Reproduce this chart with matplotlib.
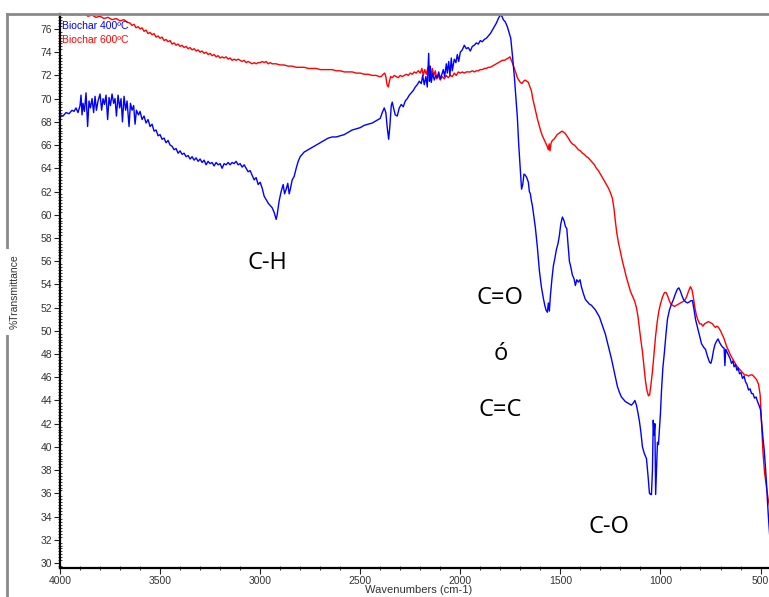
import matplotlib
matplotlib.use("Agg")
import matplotlib.pyplot as plt
from matplotlib.ticker import MultipleLocator
from matplotlib.lines import Line2D

# ---------------- data ----------------
blue_wn = [4000, 3985, 3970, 3955, 3940, 3930, 3920, 3910, 3900, 3895, 3890, 3885, 3878, 3870, 3862, 3855,
           3848, 3840, 3832, 3825, 3818, 3810, 3800, 3792, 3785, 3778, 3770, 3762, 3755, 3748, 3740, 3732,
           3725, 3718, 3710, 3702, 3695, 3688, 3680, 3672, 3665, 3655, 3648, 3640, 3632, 3625, 3618, 3608,
           3600, 3590, 3580, 3570, 3560, 3550, 3540, 3530, 3520, 3510, 3500, 3490, 3480, 3470, 3460, 3450,
           3440, 3430, 3420, 3410, 3400, 3390, 3380, 3370, 3360, 3350, 3340, 3330, 3320, 3310, 3300, 3290,
           3280, 3270, 3260, 3250, 3240, 3230, 3220, 3210, 3200, 3190, 3180, 3170, 3160, 3150, 3140, 3130,
           3120, 3110, 3100, 3090, 3080, 3070, 3060, 3050, 3040, 3030, 3020, 3010, 3000, 2990, 2980, 2970,
           2960, 2950, 2940, 2930, 2920, 2915, 2905, 2895, 2885, 2878, 2870, 2862, 2855, 2848, 2840, 2830,
           2820, 2810, 2800, 2790, 2780, 2760, 2740, 2720, 2700, 2680, 2660, 2640, 2620, 2600, 2580, 2560,
           2540, 2520, 2500, 2480, 2460, 2440, 2420, 2400, 2390, 2380, 2372, 2365, 2358, 2352, 2345, 2340,
           2335, 2325, 2315, 2305, 2295, 2285, 2275, 2265, 2255, 2245, 2235, 2225, 2215, 2205, 2195, 2188,
           2180, 2172, 2165, 2158, 2154, 2150, 2145, 2138, 2130, 2122, 2115, 2108, 2100, 2092, 2085, 2078,
           2070, 2065, 2058, 2052, 2045, 2040, 2030, 2022, 2015, 2008, 2000, 1990, 1980, 1970, 1960, 1950,
           1940, 1930, 1920, 1910, 1900, 1890, 1880, 1870, 1860, 1850, 1840, 1830, 1820, 1810, 1800, 1792,
           1785, 1775, 1765, 1755, 1748, 1740, 1730, 1722, 1715, 1708, 1700, 1694, 1688, 1682, 1675, 1668,
           1660, 1655, 1650, 1645, 1640, 1632, 1625, 1615, 1605, 1595, 1585, 1578, 1572, 1565, 1560, 1555,
           1550, 1542, 1535, 1528, 1520, 1512, 1505, 1498, 1490, 1482, 1475, 1468, 1462, 1455, 1448, 1440,
           1432, 1425, 1418, 1410, 1402, 1395, 1385, 1375, 1365, 1355, 1345, 1335, 1325, 1315, 1305, 1295,
           1285, 1275, 1265, 1255, 1245, 1235, 1225, 1215, 1205, 1195, 1185, 1175, 1165, 1155, 1145, 1135,
           1128, 1120, 1112, 1105, 1098, 1090, 1080, 1070, 1062, 1055, 1048, 1045, 1040, 1036, 1032, 1028,
           1024, 1020, 1015, 1010, 1005, 1000, 995, 988, 980, 972, 965, 955, 945, 935, 925, 915,
           908, 900, 892, 885, 875, 865, 855, 848, 840, 832, 825, 815, 805, 795, 785, 775,
           765, 755, 748, 742, 735, 728, 720, 712, 705, 698, 690, 682, 678, 674, 668, 660,
           652, 645, 638, 632, 625, 618, 612, 605, 598, 590, 582, 575, 568, 560, 552, 545,
           538, 530, 522, 515, 508, 500, 494, 488, 482, 476, 470, 465, 460, 455, 450]
blue_t = [68.6, 68.5, 68.8, 68.7, 69.0, 68.9, 69.2, 68.8, 69.4, 70.3, 68.6, 69.6, 68.9, 70.5, 67.6, 69.8,
          69.2, 70.0, 68.8, 70.2, 69.0, 69.8, 70.4, 69.0, 70.0, 69.5, 70.3, 68.2, 70.1, 69.4, 70.4, 69.6,
          70.0, 68.5, 70.3, 69.2, 70.0, 68.0, 70.2, 69.0, 69.8, 67.6, 69.6, 69.0, 69.4, 67.8, 69.0, 68.6,
          68.9, 68.2, 68.5, 67.9, 68.2, 67.6, 67.8, 67.2, 67.3, 66.8, 66.9, 66.5, 66.6, 66.2, 66.4, 66.0,
          65.9, 65.6, 65.7, 65.3, 65.5, 65.2, 65.3, 65.0, 65.1, 64.8, 65.0, 64.7, 64.9, 64.6, 64.8, 64.5,
          64.7, 64.3, 64.6, 64.4, 64.5, 64.2, 64.5, 64.3, 64.4, 64.0, 64.4, 64.3, 64.5, 64.3, 64.5, 64.4,
          64.6, 64.3, 64.4, 64.1, 64.3, 64.0, 63.7, 63.8, 63.4, 63.0, 63.2, 62.6, 62.8, 62.3, 61.6, 61.3,
          61.0, 60.8, 60.6, 60.2, 59.6, 60.0, 61.2, 62.0, 62.6, 61.8, 62.2, 62.7, 61.8, 62.3, 63.0, 63.3,
          64.0, 64.6, 65.0, 65.2, 65.4, 65.6, 65.8, 66.0, 66.2, 66.4, 66.6, 66.7, 66.7, 66.8, 66.9, 67.1,
          67.3, 67.4, 67.5, 67.7, 67.8, 67.9, 68.1, 68.3, 68.8, 69.2, 68.8, 67.5, 66.5, 67.6, 69.4, 69.7,
          69.3, 68.6, 68.5, 69.2, 69.5, 69.3, 69.8, 70.0, 70.3, 70.5, 70.7, 71.0, 71.2, 71.5, 71.3, 72.0,
          71.2, 71.9, 71.0, 73.9, 71.5, 72.8, 71.4, 72.2, 71.6, 72.0, 71.8, 72.3, 71.7, 72.1, 72.5, 71.9,
          73.0, 72.2, 73.2, 72.0, 73.5, 72.4, 73.4, 73.1, 73.8, 73.2, 74.0, 74.2, 74.6, 74.3, 74.4, 74.1,
          74.5, 74.6, 74.8, 74.7, 75.0, 74.9, 75.1, 75.2, 75.4, 75.6, 75.9, 76.2, 76.5, 76.9, 77.2, 77.1,
          76.8, 76.6, 76.2, 75.6, 75.2, 73.8, 71.9, 70.0, 68.4, 66.0, 63.8, 62.2, 62.6, 63.5, 63.4, 63.2,
          62.8, 62.0, 61.8, 61.2, 60.8, 59.8, 58.9, 57.2, 55.2, 53.8, 52.8, 52.2, 51.8, 51.6, 52.4, 51.7,
          53.0, 54.5, 55.6, 56.2, 57.0, 57.5, 58.2, 59.2, 59.8, 59.5, 59.0, 58.8, 57.5, 56.0, 55.5, 54.8,
          54.5, 53.9, 54.4, 54.2, 54.4, 53.8, 53.2, 52.7, 52.5, 52.3, 52.2, 52.0, 51.8, 51.5, 51.2, 50.7,
          50.2, 49.7, 49.0, 48.3, 47.6, 46.8, 46.0, 45.2, 44.7, 44.3, 44.1, 43.9, 43.8, 43.7, 43.6, 43.8,
          44.0, 43.6, 42.9, 42.2, 41.3, 40.0, 39.4, 39.0, 37.5, 36.0, 35.9, 35.9, 38.0, 42.3, 41.0, 42.0,
          35.9, 38.0, 40.4, 40.2, 41.5, 42.9, 44.8, 46.8, 48.2, 49.8, 51.0, 51.8, 52.3, 52.7, 53.2, 53.6,
          53.7, 53.4, 53.0, 52.7, 52.5, 52.4, 52.5, 52.6, 52.6, 51.8, 51.0, 50.3, 49.6, 48.9, 48.6, 48.4,
          47.8, 47.3, 47.2, 47.6, 48.3, 48.8, 49.1, 49.3, 49.0, 48.8, 48.6, 48.5, 47.0, 48.4, 48.2, 47.9,
          47.6, 47.2, 47.4, 46.9, 47.1, 46.6, 46.8, 46.3, 46.4, 45.9, 46.1, 45.6, 45.4, 44.9, 45.0, 44.6,
          44.6, 44.2, 44.3, 43.9, 43.6, 43.2, 42.0, 40.8, 39.8, 38.4, 36.8, 35.2, 33.8, 32.6, 31.3]

red_wn = [4000, 3980, 3960, 3940, 3920, 3900, 3880, 3860, 3840, 3820, 3800, 3780, 3760, 3740, 3720, 3700,
          3680, 3665, 3650, 3640, 3630, 3620, 3610, 3600, 3590, 3580, 3570, 3560, 3550, 3540, 3530, 3520,
          3510, 3500, 3490, 3480, 3470, 3460, 3450, 3440, 3430, 3420, 3410, 3400, 3390, 3380, 3370, 3360,
          3350, 3340, 3330, 3320, 3310, 3300, 3290, 3280, 3270, 3260, 3250, 3240, 3230, 3220, 3210, 3200,
          3190, 3180, 3170, 3160, 3150, 3140, 3130, 3120, 3110, 3100, 3090, 3080, 3070, 3060, 3050, 3040,
          3030, 3020, 3010, 3000, 2990, 2980, 2970, 2960, 2950, 2940, 2920, 2900, 2880, 2860, 2840, 2820,
          2800, 2780, 2760, 2740, 2720, 2700, 2680, 2660, 2640, 2620, 2600, 2580, 2560, 2540, 2520, 2500,
          2480, 2460, 2440, 2420, 2405, 2395, 2385, 2378, 2372, 2366, 2360, 2354, 2348, 2340, 2330, 2320,
          2310, 2300, 2290, 2280, 2270, 2260, 2250, 2240, 2230, 2220, 2210, 2200, 2192, 2185, 2178, 2170,
          2162, 2155, 2148, 2140, 2132, 2125, 2118, 2110, 2100, 2090, 2080, 2070, 2060, 2050, 2040, 2030,
          2020, 2010, 2000, 1990, 1980, 1970, 1960, 1950, 1940, 1930, 1920, 1910, 1900, 1890, 1880, 1870,
          1860, 1850, 1840, 1830, 1820, 1810, 1800, 1790, 1780, 1770, 1760, 1752, 1745, 1738, 1730, 1722,
          1715, 1708, 1700, 1692, 1684, 1676, 1668, 1660, 1652, 1645, 1638, 1630, 1622, 1614, 1606, 1598,
          1590, 1582, 1574, 1566, 1560, 1556, 1552, 1546, 1540, 1532, 1524, 1516, 1508, 1500, 1492, 1484,
          1476, 1468, 1460, 1450, 1440, 1430, 1420, 1410, 1400, 1390, 1380, 1370, 1360, 1350, 1340, 1330,
          1320, 1310, 1300, 1290, 1280, 1270, 1260, 1250, 1240, 1232, 1225, 1218, 1210, 1200, 1190, 1180,
          1170, 1160, 1150, 1140, 1130, 1120, 1112, 1105, 1098, 1090, 1082, 1075, 1068, 1060, 1054, 1048,
          1040, 1032, 1024, 1016, 1008, 1000, 990, 980, 972, 964, 956, 948, 940, 930, 920, 910,
          900, 890, 880, 870, 860, 850, 842, 835, 828, 820, 812, 804, 796, 788, 780, 770,
          760, 750, 740, 732, 725, 718, 710, 700, 692, 684, 676, 668, 660, 650, 640, 630,
          620, 610, 600, 590, 580, 570, 560, 550, 540, 530, 520, 510, 502, 495, 488, 480,
          470, 460, 450]
red_t = [77.4, 77.3, 77.4, 77.2, 77.3, 77.2, 77.3, 77.1, 77.2, 77.0, 77.1, 76.9, 77.0, 76.8, 76.9, 76.7,
         76.8, 76.6, 76.5, 76.3, 76.4, 76.1, 76.2, 76.0, 76.1, 75.8, 75.9, 75.6, 75.7, 75.5, 75.6, 75.3,
         75.4, 75.2, 75.3, 75.0, 75.1, 74.9, 75.0, 74.7, 74.8, 74.6, 74.7, 74.5, 74.6, 74.4, 74.5, 74.3,
         74.4, 74.2, 74.3, 74.1, 74.2, 74.0, 74.1, 73.9, 74.0, 73.8, 73.9, 73.7, 73.8, 73.6, 73.7, 73.5,
         73.6, 73.5, 73.6, 73.4, 73.5, 73.3, 73.4, 73.3, 73.4, 73.3, 73.2, 73.3, 73.1, 73.2, 73.1, 73.0,
         73.1, 73.0, 73.1, 73.1, 73.2, 73.1, 73.2, 73.0, 73.1, 73.0, 73.0, 72.9, 72.9, 72.8, 72.8, 72.7,
         72.7, 72.7, 72.6, 72.6, 72.6, 72.5, 72.5, 72.5, 72.5, 72.4, 72.4, 72.3, 72.3, 72.3, 72.2, 72.2,
         72.1, 72.1, 72.0, 72.0, 71.9, 71.9, 72.1, 72.2, 71.9, 71.2, 71.0, 71.5, 71.9, 71.8, 72.0, 71.9,
         71.8, 72.0, 71.9, 72.0, 72.1, 72.0, 72.2, 72.1, 72.3, 72.2, 72.4, 72.2, 72.6, 72.0, 72.5, 72.1,
         72.7, 72.3, 71.8, 72.6, 72.0, 72.4, 71.7, 72.0, 71.6, 71.9, 71.7, 72.0, 71.8, 72.0, 71.9, 72.2,
         72.0, 72.3, 72.2, 72.3, 72.2, 72.3, 72.3, 72.3, 72.4, 72.3, 72.4, 72.4, 72.5, 72.5, 72.6, 72.6,
         72.7, 72.7, 72.8, 72.9, 73.0, 73.1, 73.2, 73.3, 73.3, 73.4, 73.5, 73.6, 73.3, 73.0, 72.6, 72.2,
         71.8, 71.6, 71.4, 71.3, 71.5, 71.6, 71.5, 71.4, 71.0, 70.7, 70.0, 69.4, 68.8, 68.2, 67.7, 67.2,
         66.8, 66.5, 66.2, 65.9, 65.6, 66.1, 65.5, 66.2, 66.4, 66.5, 66.7, 66.9, 67.0, 67.1, 67.2, 67.1,
         67.0, 66.8, 66.6, 66.3, 66.1, 66.0, 65.8, 65.6, 65.5, 65.3, 65.2, 65.0, 64.9, 64.7, 64.5, 64.3,
         64.0, 63.8, 63.5, 63.2, 62.9, 62.6, 62.3, 61.9, 61.4, 60.5, 59.4, 58.4, 57.6, 56.8, 56.0, 55.3,
         54.6, 54.0, 53.4, 53.0, 52.6, 52.0, 51.2, 50.2, 49.2, 48.2, 46.9, 45.7, 44.9, 44.4, 44.5, 45.3,
         46.5, 48.0, 49.6, 50.8, 51.7, 52.3, 52.9, 53.3, 53.3, 53.0, 52.6, 52.3, 52.2, 52.1, 52.2, 52.3,
         52.4, 52.5, 52.6, 52.9, 53.4, 53.8, 53.5, 52.8, 52.0, 51.3, 50.9, 50.6, 50.6, 50.4, 50.6, 50.7,
         50.8, 50.7, 50.6, 50.4, 50.3, 50.4, 50.3, 50.0, 49.7, 49.4, 49.0, 48.6, 48.3, 47.9, 47.6, 47.3,
         47.0, 46.8, 46.6, 46.4, 46.2, 46.2, 46.1, 46.2, 46.2, 46.0, 45.8, 45.4, 44.5, 42.0, 39.6, 37.8,
         36.5, 35.3, 34.5]

series_labels = ["Biochar 400ºC", "Biochar 600ºC"]
series_colors = ["#0000FF", "#FF0000"]
x_ticks = [4000, 3500, 3000, 2500, 2000, 1500, 1000, 500]
y_ticks = list(range(30, 77, 2))
annotations = [("C-H", 2965, 55.31), ("C=O", 1800, 52.29), ("ó", 1800, 47.47),
               ("C=C", 1800, 42.64), ("C-O", 1255, 32.55)]

# ---------------- figure ----------------
W, H = 769, 597
fig = plt.figure(figsize=(W / 100, H / 100), dpi=100)
fig.patch.set_facecolor("white")

ax_left = 60 / W
ax_bottom = (H - 568) / H
ax_top = (H - 14) / H
ax = fig.add_axes([ax_left, ax_bottom, 1.0 - ax_left + 0.002, ax_top - ax_bottom])

ax.plot(blue_wn, blue_t, color=series_colors[0], lw=1.0, zorder=3)
ax.plot(red_wn, red_t, color=series_colors[1], lw=1.0, zorder=2)

ax.set_xlim(4000, 450)
ax.set_ylim(29.57, 77.29)

ax.set_xticks(x_ticks)
ax.set_yticks(y_ticks)
ax.xaxis.set_minor_locator(MultipleLocator(100))
ax.yaxis.set_minor_locator(MultipleLocator(0.25))

tick_font = {"family": "Liberation Sans", "size": 7.5}
ax.set_xticklabels([str(t) for t in x_ticks], fontdict=tick_font, color="#333333")
ax.set_yticklabels([str(t) for t in y_ticks], fontdict=tick_font, color="#333333")
ax.tick_params(axis="both", which="major", direction="out", length=4, width=0.8, pad=1.5, color="#222222")
ax.tick_params(axis="both", which="minor", direction="inout", length=3, width=0.6, color="#222222")

for s in ["top", "right"]:
    ax.spines[s].set_visible(False)
for s in ["left", "bottom"]:
    ax.spines[s].set_linewidth(1.6)
    ax.spines[s].set_color("black")

# legend-like labels
ax.text(0.003, 0.988, series_labels[0], transform=ax.transAxes, color=series_colors[0],
        fontsize=7.5, family="Liberation Sans", va="top", ha="left", zorder=5)
ax.text(0.003, 0.962, series_labels[1], transform=ax.transAxes, color=series_colors[1],
        fontsize=7.5, family="Liberation Sans", va="top", ha="left", zorder=5)

# annotations
for txt, xv, yv in annotations:
    ax.text(xv, yv, txt, ha="center", va="baseline", fontsize=17,
            family=["Open Sans", "DejaVu Sans"], color="black", zorder=6)

# outer gray frame
fx = 7 / W
fy = (H - 14) / H
fig.add_artist(Line2D([fx, fx], [0, fy], transform=fig.transFigure, color="#8a8a8a", lw=2, zorder=1))
fig.add_artist(Line2D([fx, 1.0], [fy, fy], transform=fig.transFigure, color="#8a8a8a", lw=2, zorder=1))

# axis labels
fig.text(15 / W, 1 - 292 / H, "%Transmittance", rotation=90, ha="center", va="center",
         fontsize=7.5, family="Liberation Sans", color="#333333", zorder=10,
         bbox=dict(boxstyle="square,pad=0.55", fc="white", ec="none"))
fig.text(419 / W, 1 - 585 / H, "Wavenumbers (cm-1)", ha="center", va="top",
         fontsize=8, family="Liberation Sans", color="#333333")

fig.savefig("out.png", dpi=100, facecolor="white")
